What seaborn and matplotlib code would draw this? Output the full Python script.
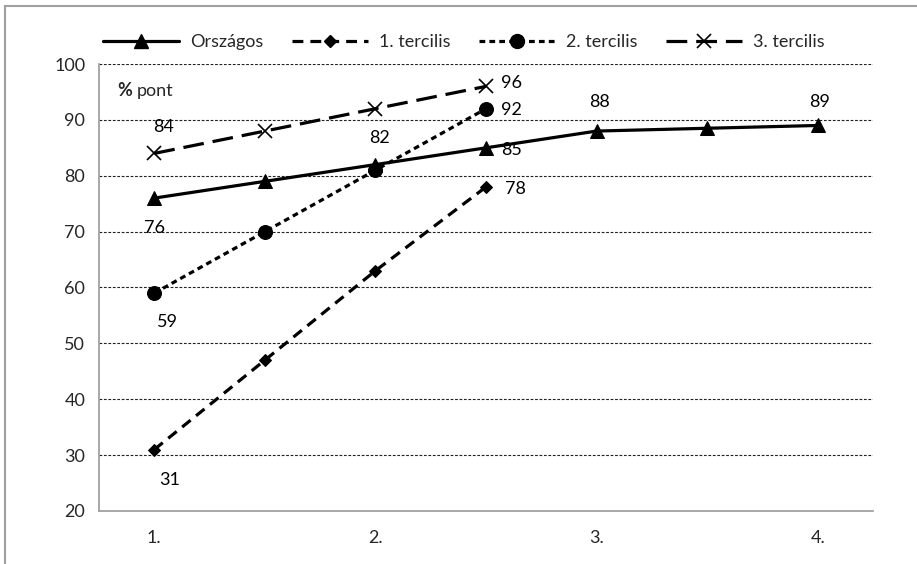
import matplotlib
matplotlib.use("Agg")
import matplotlib.pyplot as plt
import seaborn as sns
import pandas as pd
from matplotlib.lines import Line2D
from matplotlib.patches import Rectangle

# Category axis: grades with half-year steps in between
x_labels = ["1.", "", "2.", "", "3.", "", "4."]

orszagos = [76, 79, 82, 85, 88, 88.5, 89]
tercilis_1 = [31, 47, 63, 78]
tercilis_2 = [59, 70, 81, 92]
tercilis_3 = [84, 88, 92, 96]

sns.set_theme(style="white")
plt.rcParams["font.family"] = ["Lato", "DejaVu Sans"]
FS = 13

fig = plt.figure(figsize=(9.17, 5.64), dpi=100)
ax = fig.add_axes([0.108, 0.094, 0.844, 0.7925])

def frame(values, name):
    return pd.DataFrame({"x": range(len(values)), "y": values, "series": name})

series_style = {
    "Országos": dict(data=orszagos, marker="^", ms=10, dashes=None),
    "1. tercilis": dict(data=tercilis_1, marker="D", ms=6, dashes=(3.4, 2.2)),
    "2. tercilis": dict(data=tercilis_2, marker="o", ms=10, dashes=(1.8, 1.3)),
    "3. tercilis": dict(data=tercilis_3, marker="x", ms=10, dashes=(6.5, 2.8)),
}

handles = []
for name, st in series_style.items():
    df = frame(st["data"], name)
    kw = dict(color="black", lw=2.3, marker=st["marker"], markersize=st["ms"],
              markeredgecolor="black", markerfacecolor="black")
    if st["marker"] == "x":
        kw["markeredgewidth"] = 1.2
    sns.lineplot(data=df, x="x", y="y", ax=ax, legend=False, **kw)
    line = ax.lines[-1]
    if st["dashes"] is not None:
        line.set_dashes(st["dashes"])
    h = Line2D([0], [0], **kw)
    if st["dashes"] is not None:
        h.set_dashes(st["dashes"])
    handles.append(h)

# Value labels (value, x index, label y, x offset)
labels = [
    (orszagos[0], 0, 70.6, 0.0),
    (orszagos[2], 2, 86.8, 0.04),
    (orszagos[3], 3, 84.6, 0.23),
    (orszagos[4], 4, 93.2, 0.03),
    (orszagos[6], 6, 93.2, 0.02),
    (tercilis_1[0], 0, 25.6, 0.14),
    (tercilis_1[3], 3, 77.6, 0.27),
    (tercilis_2[0], 0, 53.8, 0.12),
    (tercilis_2[3], 3, 91.7, 0.23),
    (tercilis_3[0], 0, 88.7, 0.08),
    (tercilis_3[3], 3, 96.6, 0.23),
]
for val, xi, ly, dx in labels:
    txt = f"{val:g}"
    ax.text(xi + dx, ly, txt, ha="center", va="center", fontsize=FS, color="black")

# unit caption inside the plot area
t_pct = ax.text(0.024, 0.94, "%", transform=ax.transAxes, fontsize=FS,
                fontweight="bold", ha="left", va="center")
ax.annotate("pont", xy=(1, 0.5), xycoords=t_pct, xytext=(3, 0),
            textcoords="offset points", fontsize=FS, ha="left", va="center")

ax.set_xlim(-0.5, 6.5)
ax.set_ylim(20, 100)
ax.set_yticks(range(20, 101, 10))
ax.set_xticks(range(7))
ax.set_xticklabels(x_labels)
ax.set_xticks([i - 0.5 for i in range(8)], minor=True)
ax.tick_params(axis="x", which="major", length=0, pad=14, labelsize=FS)
ax.tick_params(axis="x", which="minor", length=6, color="#999999", width=1, direction="out")
ax.tick_params(axis="y", length=6, color="#999999", width=1, direction="out", labelsize=FS, pad=4)
ax.set_xlabel("")
ax.set_ylabel("")

for y in range(30, 101, 10):
    ax.axhline(y, color="#222222", lw=0.8, ls=(0, (2.5, 1.5)), zorder=0)

for side in ["top", "right"]:
    ax.spines[side].set_visible(False)
for side in ["left", "bottom"]:
    ax.spines[side].set_color("#999999")
    ax.spines[side].set_linewidth(1.2)

fig.legend(handles, list(series_style.keys()), loc="center", ncol=4,
           bbox_to_anchor=(0.506, 0.925), frameon=False, fontsize=FS,
           handlelength=4.2, handletextpad=0.6, columnspacing=1.6)

# light chart-area border
fig.add_artist(Rectangle((5 / 917, -0.1), 1.2, 1.1 - 6 / 564, transform=fig.transFigure,
                         fill=False, edgecolor="#a0a0a0", lw=1.5))

fig.savefig("out.png", dpi=100)
